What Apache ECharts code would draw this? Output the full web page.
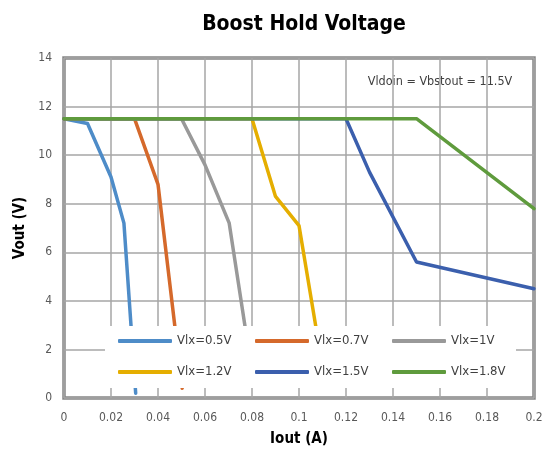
<!DOCTYPE html>
<html><head><meta charset="utf-8">
<script src="https://cdn.jsdelivr.net/npm/echarts@6/dist/echarts.min.js"></script>
<style>html,body{margin:0;padding:0;background:#fff}#c{width:542px;height:455px}</style>
</head><body><div id="c"></div>
<script>
var FONT = "'DejaVu Sans Condensed','Liberation Sans Narrow',sans-serif";
var seriesNames = ['Vlx=0.5V','Vlx=0.7V','Vlx=1V','Vlx=1.2V','Vlx=1.5V','Vlx=1.8V'];
var seriesColors = ['#4e8cc8','#d5692b','#999999','#e5ae00','#3b5fad','#5f9b3d'];
var iout05 = [0, 0.01, 0.02, 0.0255, 0.0305];
var vout05 = [11.5, 11.3, 9.1, 7.2, 0.2];
var iout07 = [0, 0.03, 0.04, 0.0503];
var vout07 = [11.5, 11.5, 8.8, 0.4];
var iout10 = [0, 0.05, 0.06, 0.0703, 0.0798];
var vout10 = [11.5, 11.5, 9.6, 7.2, 1.2];
var iout12 = [0, 0.08, 0.09, 0.1, 0.1105];
var vout12 = [11.5, 11.5, 8.3, 7.1, 1.0];
var iout15 = [0, 0.12, 0.13, 0.15, 0.2];
var vout15 = [11.5, 11.5, 9.3, 5.6, 4.5];
var iout18 = [0, 0.15, 0.2];
var vout18 = [11.5, 11.5, 7.8];
var xTickLabels = ['0','0.02','0.04','0.06','0.08','0.1','0.12','0.14','0.16','0.18','0.2'];
var yTickLabels = ['0','2','4','6','8','10','12','14'];
var annotation = 'Vldoin = Vbstout = 11.5V';

function pairs(xs, ys){ return xs.map(function(x,i){ return [x, ys[i]]; }); }
var allX = [iout05, iout07, iout10, iout12, iout15, iout18];
var allY = [vout05, vout07, vout10, vout12, vout15, vout18];

var chart = echarts.init(document.getElementById('c'));
chart.setOption({
  animation: false,
  backgroundColor: '#fff',
  title: {
    text: 'Boost Hold Voltage', left: 299, top: 9, textAlign: 'center',
    textStyle: { fontFamily: FONT, fontWeight: 'bold', fontSize: 21, color: '#000' }
  },
  grid: { left: 64, right: 8, top: 58, bottom: 57, show: true, borderColor: '#878787', borderWidth: 3.5,
    backgroundColor: 'transparent', containLabel: false, outerBoundsMode: 'none' },
  xAxis: {
    type: 'value', min: 0, max: 0.2, interval: 0.02,
    name: 'Iout (A)', nameLocation: 'middle', nameGap: 34,
    nameTextStyle: { fontFamily: FONT, fontWeight: 'bold', fontSize: 15, color: '#000' },
    axisLine: { show: false }, axisTick: { show: false },
    axisLabel: { fontFamily: FONT, fontSize: 12, color: '#595959', margin: 14,
      formatter: function(v){ return xTickLabels[Math.round(v / 0.02)]; } },
    splitLine: { show: true, lineStyle: { color: '#a6a6a6', width: 1.5 } }
  },
  yAxis: {
    type: 'value', min: 0, max: 14, interval: 2,
    name: 'Vout (V)', nameLocation: 'middle', nameGap: 34, nameRotate: 90,
    nameTextStyle: { fontFamily: FONT, fontWeight: 'bold', fontSize: 15, color: '#000' },
    axisLine: { show: false }, axisTick: { show: false },
    axisLabel: { fontFamily: FONT, fontSize: 12, color: '#595959', margin: 12,
      formatter: function(v){ return yTickLabels[Math.round(v / 2)]; } },
    splitLine: { show: true, lineStyle: { color: '#a6a6a6', width: 1.5 } }
  },
  legend: {
    data: seriesNames, left: 105, top: 326, width: 440, z: 20,
    backgroundColor: '#fff', padding: [6, 0, 7, 13],
    itemWidth: 54, itemHeight: 4, itemGap: 13, icon: 'roundRect',
    textStyle: { fontFamily: FONT, fontSize: 13, color: '#404040', width: 65, height: 18, lineHeight: 18 }
  },
  graphic: [{
    type: 'group', left: 362, top: 61, z: 5,
    children: [
      { type: 'rect', shape: { x: 0, y: 0, width: 170, height: 37 }, style: { fill: '#fff' } },
      { type: 'text', x: 78, y: 21, style: { text: annotation, fontFamily: FONT, fontSize: 12.5, fill: '#404040', align: 'center', verticalAlign: 'middle' } }
    ]
  }],
  series: seriesNames.map(function(n, k){
    return { name: n, type: 'line', data: pairs(allX[k], allY[k]), symbol: 'none', showSymbol: false,
      lineStyle: { width: 3.5, color: seriesColors[k], cap: 'round', join: 'round' }, itemStyle: { color: seriesColors[k] }, z: 2, clip: true };
  })
});
</script></body></html>
